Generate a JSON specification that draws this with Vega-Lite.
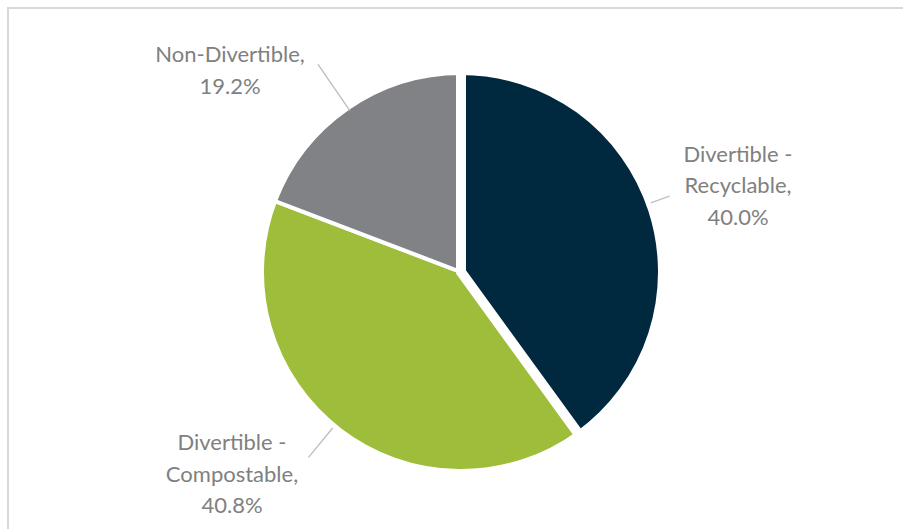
{
  "$schema": "https://vega.github.io/schema/vega-lite/v6.json",
  "width": 906,
  "height": 528,
  "autosize": {"type": "none"},
  "padding": {"left": 8, "top": 8, "right": 0, "bottom": 0},
  "background": "white",
  "view": {"stroke": "#d9d9d9", "strokeWidth": 2},
  "config": {"view": {"stroke": "#d9d9d9", "strokeWidth": 2}},
  "data": {
    "values": [
      {"rank": 1, "category": "Divertible - Recyclable", "value": 40.0, "label": "Divertible -\nRecyclable,\n40.0%"},
      {"rank": 2, "category": "Divertible - Compostable", "value": 40.8, "label": "Divertible -\nCompostable,\n40.8%"},
      {"rank": 3, "category": "Non-Divertible", "value": 19.2, "label": "Non-Divertible,\n19.2%"}
    ]
  },
  "encoding": {
    "theta": {"field": "value", "type": "quantitative", "stack": true},
    "order": {"field": "rank", "type": "quantitative"}
  },
  "layer": [
    {
      "mark": {"type": "arc", "radius": 199, "stroke": "white", "strokeWidth": 4},
      "encoding": {
        "color": {
          "field": "category",
          "type": "nominal",
          "scale": {
            "domain": ["Divertible - Recyclable", "Divertible - Compostable", "Non-Divertible"],
            "range": ["#00283F", "#9EBE3B", "#808285"]
          },
          "legend": null
        }
      }
    },
    {
      "transform": [{"filter": "datum.rank == 1"}],
      "mark": {"type": "arc", "radius": 202, "stroke": "white", "strokeWidth": 10, "fill": "#00283F"}
    },
    {
      "mark": {"type": "arc", "radius": 222, "radius2": 202, "padAngle": 3, "thetaOffset": -0.035, "theta2Offset": -0.035, "filled": false, "stroke": "#bfbfbf", "strokeWidth": 1.4},
      "encoding": {"strokeOpacity": {"condition": {"test": "datum.rank == 1", "value": 1}, "value": 0}}
    },
    {
      "mark": {"type": "arc", "radius": 240, "radius2": 202, "padAngle": 3, "thetaOffset": 0.035, "theta2Offset": 0.035, "filled": false, "stroke": "#bfbfbf", "strokeWidth": 1.4},
      "encoding": {"strokeOpacity": {"condition": {"test": "datum.rank == 2", "value": 1}, "value": 0}}
    },
    {
      "mark": {"type": "arc", "radius": 252, "radius2": 196, "padAngle": 3, "filled": false, "stroke": "#bfbfbf", "strokeWidth": 1.4},
      "encoding": {"strokeOpacity": {"condition": {"test": "datum.rank == 3", "value": 1}, "value": 0}}
    },
    {
      "mark": {"type": "text", "radius": 300.7, "thetaOffset": -0.0855, "align": "center", "baseline": "middle", "lineBreak": "\n", "lineHeight": 31.5, "font": "Lato", "fontSize": 22, "fill": "#808080"},
      "encoding": {"text": {"field": "label"}, "opacity": {"condition": {"test": "datum.rank == 1", "value": 1}, "value": 0}}
    },
    {
      "mark": {"type": "text", "radius": 285.8, "thetaOffset": 0.2759, "align": "center", "baseline": "middle", "lineBreak": "\n", "lineHeight": 31.5, "font": "Lato", "fontSize": 22, "fill": "#808080"},
      "encoding": {"text": {"field": "label"}, "opacity": {"condition": {"test": "datum.rank == 2", "value": 1}, "value": 0}}
    },
    {
      "mark": {"type": "text", "radius": 316.9, "thetaOffset": -0.2135, "align": "center", "baseline": "middle", "lineBreak": "\n", "lineHeight": 31.5, "font": "Lato", "fontSize": 22, "fill": "#808080"},
      "encoding": {"text": {"field": "label"}, "opacity": {"condition": {"test": "datum.rank == 3", "value": 1}, "value": 0}}
    }
  ]
}
